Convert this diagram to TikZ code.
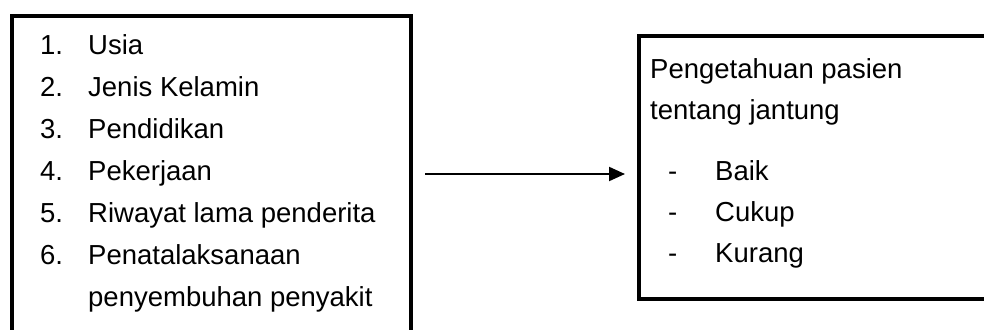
\documentclass[tikz,border=0pt]{standalone}
\usepackage{fontspec}
\setmainfont{Liberation Sans}
\usetikzlibrary{arrows.meta}
\begin{document}
\begin{tikzpicture}[x=1pt,y=-1pt,
  frame/.style={draw=black,line width=4pt,inner sep=0pt,anchor=north west},
  txt/.style={anchor=base west,inner sep=0pt,font=\fontsize{27.5}{33}\selectfont},
  conn/.style={line width=2pt,-{Triangle[length=16pt,width=14pt]}}]
\useasboundingbox (0,0) rectangle (984,329);
% boxes
\node[frame,minimum width=399pt,minimum height=340pt] (L) at (10,14) {};
\node[frame,minimum width=400pt,minimum height=263pt] (R) at (637,34) {};
% left list
\foreach \n/\t/\y in {1./Usia/55, 2./Jenis Kelamin/96.9, 3./Pendidikan/138.8,
  4./Pekerjaan/180.7, 5./Riwayat lama penderita/222.6, 6./Penatalaksanaan/264.5}{
  \node[txt] (num\n) at (40,\y) {\n};
  \node[txt] (item\n) at (88,\y) {\t};
}
\node[txt] (item7) at (88,306.4) {penyembuhan penyakit};
% right text
\node[txt] (r1) at (650,78) {Pengetahuan pasien};
\node[txt] (r2) at (650,119) {tentang jantung};
\foreach \t/\y [count=\i] in {Baik/180, Cukup/221, Kurang/262}{
  \node[txt] (d\i) at (668,\y) {-};
  \node[txt] (o\i) at (715,\y) {\t};
}
% connector
\coordinate (a0) at (425,174);
\coordinate (a1) at (625,174);
\draw[conn] (a0) -- (a1);
\end{tikzpicture}
\end{document}
